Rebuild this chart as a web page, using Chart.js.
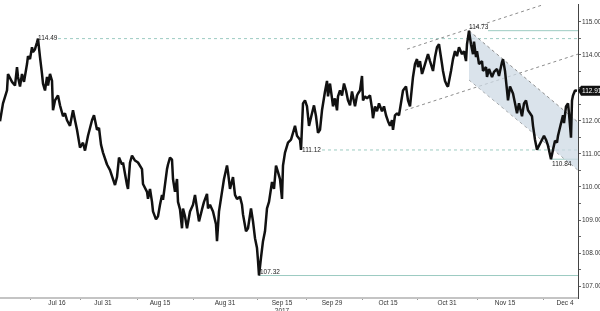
<!DOCTYPE html>
<html>
<head>
<meta charset="utf-8">
<script src="https://cdn.jsdelivr.net/npm/chart.js@4.4.1/dist/chart.umd.min.js"></script>
<style>
  html, body { margin: 0; padding: 0; background: #fff; }
  #wrap { width: 600px; height: 311px; }
</style>
</head>
<body>
<div id="wrap"><canvas id="fx" width="600" height="311"></canvas></div>
<script>
// bar number (4h bars) and close
const bars = [
  0, 3, 7, 8, 12, 15, 17, 18, 20, 22, 24, 27, 28, 30, 32, 33, 35, 37, 38, 40,
  42, 43, 45, 47, 48, 50, 52, 53, 55, 58, 60, 63, 65, 67, 70, 73, 75, 77, 80, 83,
  85, 88, 92, 94, 97, 99, 101, 103, 107, 110, 113, 115, 117, 119, 122, 123, 127, 128, 130, 132,
  135, 138, 142, 143, 147, 148, 150, 152, 153, 156, 158, 160, 162, 163, 167, 168, 170, 172, 173, 175,
  177, 178, 180, 182, 183, 185, 187, 190, 193, 195, 197, 199, 202, 204, 207, 208, 210, 213, 216, 217,
  219, 222, 224, 227, 228, 230, 233, 235, 237, 240, 242, 243, 246, 248, 251, 253, 255, 257, 258, 259,
  261, 263, 265, 267, 269, 272, 274, 276, 278, 280, 282, 283, 285, 288, 291, 293, 295, 297, 300, 301,
  303, 305, 307, 309, 312, 314, 316, 318, 320, 322, 325, 327, 328, 330, 332, 333, 335, 337, 338, 340,
  342, 344, 346, 348, 350, 352, 353, 355, 357, 358, 360, 362, 363, 365, 367, 370, 372, 373, 375, 377,
  379, 382, 384, 386, 388, 390, 392, 393, 395, 397, 399, 403, 406, 408, 410, 413, 415, 417, 418, 420,
  422, 423, 425, 428, 430, 433, 435, 437, 439, 442, 443, 445, 447, 448, 451, 453, 455, 457, 459, 462,
  464, 466, 467, 468, 469, 471, 473, 474, 476, 477, 479, 482, 483, 486, 487, 489, 492, 494, 497, 499,
  502, 503, 505, 507, 508, 510, 513, 515, 517, 519, 522, 524, 526, 528, 530, 532, 533, 535, 537, 539,
  542, 544, 546, 548, 551, 553, 555, 557, 558, 561, 563, 564, 566, 568, 569, 571, 572, 573, 575, 577
];
const closes = [
  111.99, 112.53, 112.92, 113.42, 113.18, 113.07, 113.63, 113.33, 113.04, 113.42, 113.18, 113.72, 113.96, 113.87, 114.23, 114.08, 114.17, 114.38, 114.49, 113.93,
  113.42, 113.13, 112.92, 113.33, 113.07, 113.42, 113.21, 112.32, 112.62, 112.77, 112.47, 112.14, 112.23, 112.02, 111.85, 112.32, 112.02, 111.73, 111.19, 111.34,
  111.10, 111.55, 112.02, 112.17, 111.73, 111.79, 111.28, 111.04, 110.68, 110.51, 110.24, 110.06, 110.30, 110.89, 110.68, 110.74, 110.06, 109.94, 110.74, 110.95,
  110.80, 110.74, 110.54, 110.09, 109.85, 109.64, 109.94, 109.55, 109.26, 109.02, 109.11, 109.46, 109.76, 109.61, 110.54, 110.68, 110.89, 110.83, 110.24, 109.85,
  110.24, 109.55, 109.32, 108.75, 109.35, 109.11, 108.75, 109.26, 109.46, 109.76, 109.35, 108.96, 109.32, 109.55, 109.79, 109.35, 109.46, 109.26, 108.87, 108.36,
  109.26, 109.85, 110.24, 110.65, 110.45, 109.94, 110.30, 109.76, 109.64, 109.70, 109.46, 109.17, 108.66, 108.75, 109.35, 108.96, 108.45, 108.15, 107.77, 107.32,
  107.86, 108.36, 108.66, 109.35, 109.55, 110.15, 109.94, 110.65, 110.45, 110.24, 109.64, 110.65, 111.04, 111.34, 111.43, 111.64, 111.85, 111.55, 111.43, 111.12,
  112.53, 112.62, 112.44, 111.85, 112.23, 112.47, 112.14, 111.64, 111.73, 112.32, 112.89, 113.21, 112.74, 113.13, 112.68, 112.44, 112.68, 112.32, 112.74, 112.92,
  112.77, 113.13, 112.92, 112.62, 112.47, 112.89, 112.74, 112.44, 112.77, 112.83, 112.92, 113.36, 112.62, 112.74, 112.68, 112.77, 112.38, 112.08, 112.44, 112.29,
  112.53, 112.29, 112.44, 112.17, 111.99, 111.85, 112.02, 111.73, 112.17, 112.23, 112.17, 112.92, 113.04, 112.62, 112.44, 113.33, 113.72, 113.87, 113.63, 113.81,
  113.42, 113.51, 113.72, 114.02, 113.81, 113.51, 113.93, 114.23, 114.32, 113.72, 113.51, 113.21, 113.07, 113.04, 113.51, 113.87, 114.11, 113.96, 114.23, 114.02,
  114.11, 113.81, 114.32, 114.52, 114.73, 114.32, 114.02, 114.40, 113.93, 114.11, 113.72, 113.81, 113.51, 113.63, 113.33, 113.57, 113.33, 113.48, 113.57, 113.36,
  113.78, 113.87, 113.51, 112.92, 112.62, 113.04, 112.83, 112.53, 112.23, 112.53, 112.14, 112.53, 112.62, 112.32, 112.23, 112.14, 111.85, 111.43, 111.13, 111.25,
  111.43, 111.55, 111.43, 111.25, 110.84, 111.13, 111.40, 111.34, 111.55, 111.93, 112.17, 111.93, 112.44, 112.53, 112.23, 111.49, 112.62, 112.77, 112.92, 112.91
];

// x axis: date labels sit between the small boundary marks
const dateBars = [57, 103, 160, 225, 282, 332, 388, 447, 505, 565];
const dateLabels = ['Jul 16', 'Jul 31', 'Aug 15', 'Aug 31', ['Sep 15', '2017'], 'Sep 29', 'Oct 15', 'Oct 31', 'Nov 15', 'Dec 4'];
const markBars = [30, 80, 137, 193, 257, 306, 362, 417, 477, 543];

const yTicks = [107, 107.5, 108, 108.5, 109, 109.5, 110, 110.5, 111, 111.5, 112, 112.5, 113, 113.5, 114, 114.5, 115];
const lastPrice = 112.91;

// horizontal levels: value, first bar of the line, bar of the label
const levelValues = [114.49, 114.73, 111.12, 110.84, 107.32];
const levelStart = [58, 488, 322, 551, 259];
const levelLabelBar = [38, 469, 302, 552, 260];
const levelDashed = [true, false, true, false, false];

// trend lines: [bar, price] at both ends
const riseUpper = [[407, 114.17], [578, 115.86]];
const riseLower = [[405, 112.32], [578, 114.02]];
const fallUpper = [[469, 114.73], [578, 111.96]];
const fallLower = [[469, 113.24], [578, 110.51]];

const pts = (arr) => arr.map(p => ({ x: p[0], y: p[1] }));
const teal = '#9ccbc2';
const dashGrey = '#8c8c8c';

const datasets = [
  {
    label: 'USDJPY',
    data: bars.map((b, i) => ({ x: b, y: closes[i] })),
    borderColor: '#111',
    borderWidth: 2.5,
    borderJoinStyle: 'bevel',
    pointRadius: 0,
    tension: 0,
  },
  { data: pts(fallUpper), borderColor: dashGrey, borderWidth: 1, borderDash: [3, 3], pointRadius: 0,
    fill: '+1', backgroundColor: 'rgba(205, 218, 228, 0.75)' },
  { data: pts(fallLower), borderColor: dashGrey, borderWidth: 1, borderDash: [3, 3], pointRadius: 0, fill: false },
  { data: pts(riseUpper), borderColor: dashGrey, borderWidth: 1, borderDash: [3, 3], pointRadius: 0, fill: false },
  { data: pts(riseLower), borderColor: dashGrey, borderWidth: 1, borderDash: [3, 3], pointRadius: 0, fill: false },
];

levelValues.forEach((v, i) => {
  datasets.push({
    data: [{ x: levelStart[i], y: v }, { x: 578, y: v }],
    borderColor: teal,
    borderWidth: 1,
    borderDash: levelDashed[i] ? [3, 3] : [],
    pointRadius: 0,
    fill: false,
  });
});

const levelLabels = {
  id: 'levelLabels',
  afterDatasetsDraw(chart) {
    const { ctx, scales: { x, y }, chartArea } = chart;
    ctx.save();
    ctx.font = '6.5px "Liberation Sans"';
    ctx.fillStyle = '#222';
    ctx.textAlign = 'left';
    levelValues.forEach((v, i) => {
      const px = x.getPixelForValue(levelLabelBar[i]);
      const py = y.getPixelForValue(v);
      if (v === 114.73 || v === 107.32) {
        ctx.textBaseline = 'bottom';
        ctx.fillText(v.toFixed(2), px, py);
      } else if (v === 110.84) {
        ctx.textBaseline = 'top';
        ctx.fillText(v.toFixed(2), px, py + 2);
      } else {
        ctx.textBaseline = 'middle';
        ctx.fillText(v.toFixed(2), px, py);
      }
    });
    // last price tag on the axis
    const ty = y.getPixelForValue(lastPrice);
    const tx = chartArea.right + 2;
    ctx.fillStyle = '#111';
    ctx.beginPath();
    ctx.moveTo(tx - 2, ty);
    ctx.lineTo(tx + 1, ty - 5);
    ctx.lineTo(tx + 20, ty - 5);
    ctx.lineTo(tx + 20, ty + 5);
    ctx.lineTo(tx + 1, ty + 5);
    ctx.closePath();
    ctx.fill();
    ctx.fillStyle = '#fff';
    ctx.textBaseline = 'middle';
    ctx.fillText(lastPrice.toFixed(2), tx + 2, ty + 0.5);
    ctx.restore();
  }
};

new Chart(document.getElementById('fx'), {
  type: 'line',
  data: { datasets: datasets },
  options: {
    responsive: false,
    animation: false,
    layout: { padding: 0 },
    plugins: {
      legend: { display: false },
      tooltip: { enabled: false },
    },
    scales: {
      x: {
        type: 'linear',
        min: 0,
        max: 578,
        afterBuildTicks: (scale) => {
          scale.ticks = dateBars.concat(markBars).sort((a, b) => a - b).map(v => ({ value: v }));
        },
        afterFit: (scale) => { scale.height = 13; },
        ticks: {
          autoSkip: false,
          maxRotation: 0,
          padding: 0,
          font: { size: 6.5, family: 'Liberation Sans', lineHeight: 1.1 },
          color: '#333',
          callback: (v) => {
            const i = dateBars.indexOf(v);
            return i >= 0 ? dateLabels[i] : '';
          },
        },
        grid: {
          drawOnChartArea: false,
          tickLength: 2,
          color: (ctx) => (ctx.tick && markBars.includes(ctx.tick.value)) ? '#999' : 'rgba(0,0,0,0)',
        },
        border: { color: '#c4c4c4', width: 2 },
      },
      y: {
        position: 'right',
        min: 106.64,
        max: 115.51,
        afterBuildTicks: (scale) => {
          scale.ticks = yTicks.map(v => ({ value: v }));
        },
        afterFit: (scale) => { scale.width = 22; },
        ticks: {
          padding: 1,
          font: { size: 6.5, family: 'Liberation Sans' },
          color: '#333',
          callback: (v) => (Number.isInteger(v) && Math.abs(v - lastPrice) > 0.3) ? v.toFixed(2) : '',
        },
        grid: {
          drawOnChartArea: false,
          tickLength: 3,
          color: '#666',
        },
        border: { color: '#444', width: 1 },
      },
    },
  },
  plugins: [levelLabels],
});
</script>
</body>
</html>
